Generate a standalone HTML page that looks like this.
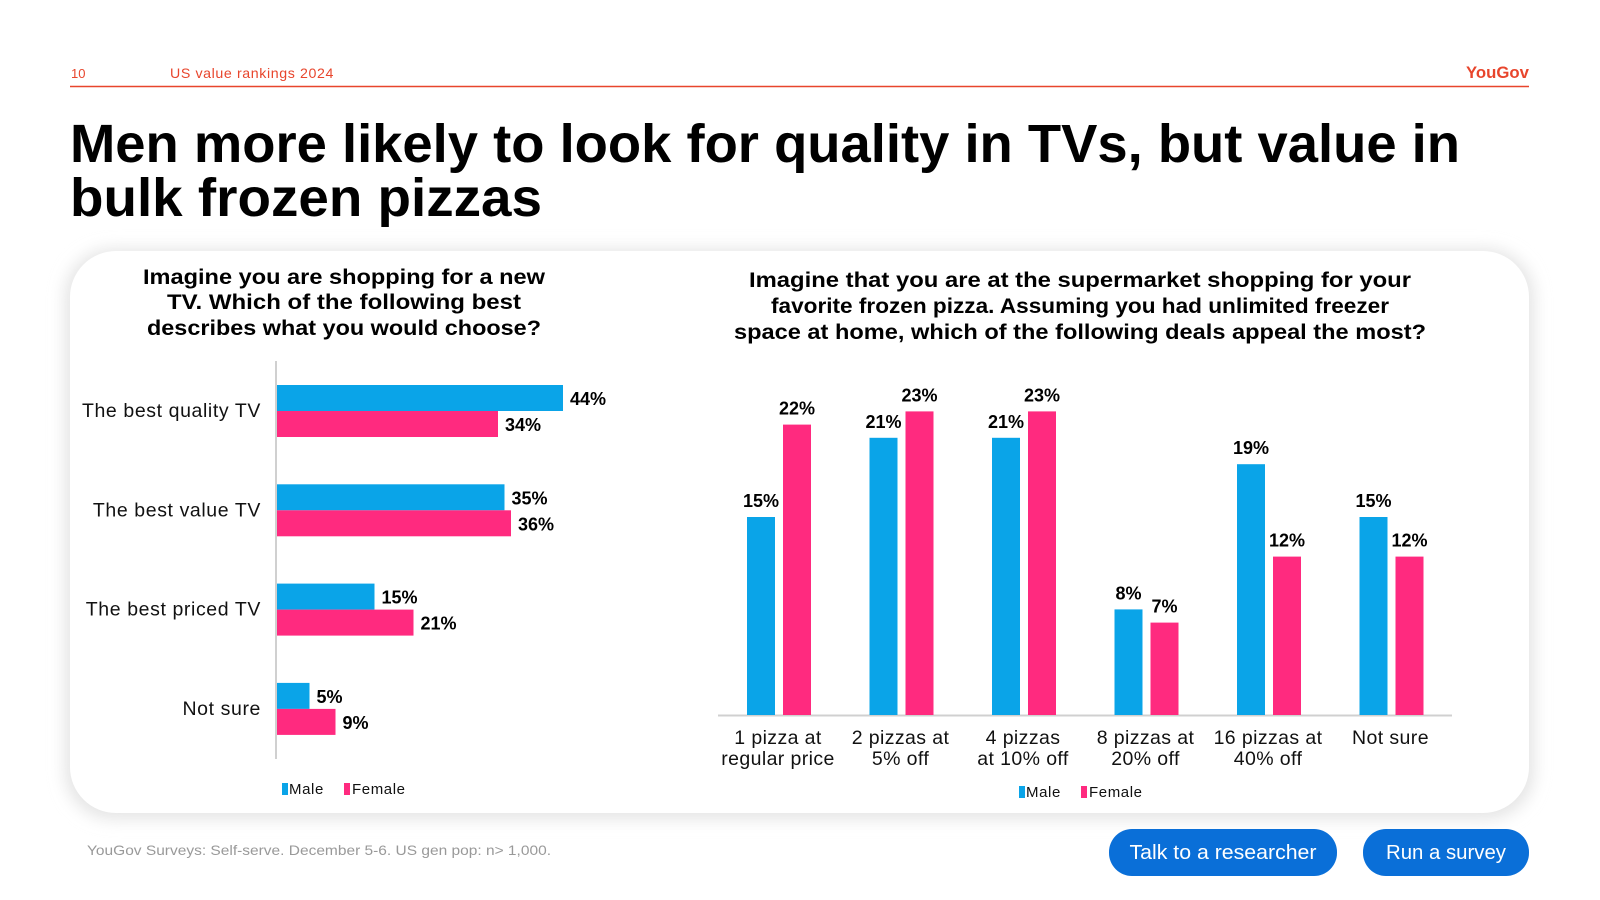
<!DOCTYPE html>
<html><head><meta charset="utf-8"><style>
html,body{margin:0;padding:0;background:#fff;}
svg{display:block;font-family:"Liberation Sans",sans-serif;}
</style></head><body>
<svg id="s" width="1600" height="900" viewBox="0 0 1600 900" xmlns="http://www.w3.org/2000/svg">
<defs><filter id="sh" x="-5%" y="-5%" width="110%" height="115%"><feGaussianBlur stdDeviation="8"/></filter></defs>
<text x="71" y="78" font-size="13" fill="#e8452c">10</text>
<text x="170" y="78" font-size="14" letter-spacing="0.6" fill="#e8452c" textLength="164" lengthAdjust="spacingAndGlyphs">US value rankings 2024</text>
<text x="1529" y="78" font-size="17" font-weight="bold" fill="#e8452c" text-anchor="end" textLength="63" lengthAdjust="spacingAndGlyphs">YouGov</text>
<line x1="70" y1="86.5" x2="1529" y2="86.5" stroke="#e8452c" stroke-width="1.5"/>
<text x="70" y="162" font-size="54" font-weight="bold" fill="#000" textLength="1390" lengthAdjust="spacingAndGlyphs">Men more likely to look for quality in TVs, but value in</text>
<text x="70" y="216" font-size="54" font-weight="bold" fill="#000" textLength="472" lengthAdjust="spacingAndGlyphs">bulk frozen pizzas</text>
<rect x="65" y="249" width="1469" height="570" rx="48" fill="#e4e4e4" filter="url(#sh)"/>
<rect x="70" y="251" width="1459" height="562" rx="46" fill="#fff"/>
<g font-size="21" font-weight="bold" text-anchor="middle" fill="#000">
<text x="344" y="284" textLength="402" lengthAdjust="spacingAndGlyphs">Imagine you are shopping for a new</text>
<text x="344" y="309" textLength="354" lengthAdjust="spacingAndGlyphs">TV. Which of the following best</text>
<text x="344" y="335" textLength="394" lengthAdjust="spacingAndGlyphs">describes what you would choose?</text>
</g>
<g font-size="21" font-weight="bold" text-anchor="middle" fill="#000">
<text x="1080" y="287" textLength="662" lengthAdjust="spacingAndGlyphs">Imagine that you are at the supermarket shopping for your</text>
<text x="1080" y="313" textLength="618" lengthAdjust="spacingAndGlyphs">favorite frozen pizza. Assuming you had unlimited freezer</text>
<text x="1080" y="339" textLength="692" lengthAdjust="spacingAndGlyphs">space at home, which of the following deals appeal the most?</text>
</g>
<g id="left"></g>
<g id="right"></g>
<text x="87" y="855" font-size="14" fill="#999" textLength="464" lengthAdjust="spacingAndGlyphs">YouGov Surveys: Self-serve. December 5-6. US gen pop: n&gt; 1,000.</text>
<g>
<rect x="1109" y="829" width="228" height="47" rx="23" fill="#0a6fd8"/>
<text x="1223" y="859" font-size="20" fill="#fff" text-anchor="middle" textLength="187" lengthAdjust="spacingAndGlyphs">Talk to a researcher</text></g>
<g>
<rect x="1363" y="829" width="166" height="47" rx="23" fill="#0a6fd8"/>
<text x="1446" y="859" font-size="20" fill="#fff" text-anchor="middle" textLength="120" lengthAdjust="spacingAndGlyphs">Run a survey</text></g>
</svg>
<script>
const tvCats=["The best quality TV","The best value TV","The best priced TV","Not sure"];
const tvMale=[44,35,15,5];
const tvFemale=[34,36,21,9];
const pzCats=[["1 pizza at","regular price"],["2 pizzas at","5% off"],["4 pizzas","at 10% off"],["8 pizzas at","20% off"],["16 pizzas at","40% off"],["Not sure",""]];
const pzMale=[15,21,21,8,19,15];
const pzFemale=[22,23,23,7,12,12];
const BLUE="#0aa4e8",PINK="#ff2a7f",NS="http://www.w3.org/2000/svg";
function mk(p,t,a,txt){const e=document.createElementNS(NS,t);for(const k in a)e.setAttribute(k,a[k]);if(txt!=null)e.textContent=txt;p.appendChild(e);return e;}
// left chart
const L=document.getElementById('left');
const lx0=276,lpx=6.5,ly=i=>411+i*99.3;
let ax=mk(L,'line',{x1:lx0,y1:361,x2:lx0,y2:759,stroke:'#d0d0d0','stroke-width':2});

tvCats.forEach((c,i)=>{
 const y=ly(i);
 let t=mk(L,'text',{x:261,y:y+6,'font-size':19.5,'letter-spacing':'0.6','text-anchor':'end',fill:'#111'},c);
 
 [[tvMale[i],BLUE,-26],[tvFemale[i],PINK,0]].forEach(([v,col,off])=>{
  let b=mk(L,'rect',{x:lx0+1,y:y+off,width:v*lpx,height:26,fill:col});
  
  let l=mk(L,'text',{x:lx0+v*lpx+8,y:y+off+20,'font-size':18,'font-weight':'bold',fill:'#000'},v+'%');
  
 });
});
function legend(p,x,y){
 let g=mk(p,'g',{});
 mk(g,'rect',{x:x,y:y-10,width:6,height:12,fill:BLUE});
 mk(g,'text',{x:x+7,y:y+1,'font-size':15,'letter-spacing':'0.6',fill:'#111'},'Male');
 mk(g,'rect',{x:x+62,y:y-10,width:6,height:12,fill:PINK});
 mk(g,'text',{x:x+70,y:y+1,'font-size':15,'letter-spacing':'0.6',fill:'#111'},'Female');
}
legend(L,282,793);
// right chart
const R=document.getElementById('right');
const base=715,rpx=13.2,cx=i=>778+i*122.5;
let bl=mk(R,'line',{x1:718,y1:base+0.5,x2:1452,y2:base+0.5,stroke:'#d0d0d0','stroke-width':2});

pzCats.forEach((c,i)=>{
 const x=cx(i);
 c.forEach((ln,j)=>{if(!ln)return;let t=mk(R,'text',{x:x,y:744+j*21,'font-size':19.5,'letter-spacing':'0.4','text-anchor':'middle',fill:'#111'},ln);
  });
 [[pzMale[i],BLUE,-31],[pzFemale[i],PINK,5]].forEach(([v,col,off])=>{
  const h=v*rpx;
  let b=mk(R,'rect',{x:x+off,y:base-h,width:28,height:h,fill:col});
  
  let l=mk(R,'text',{x:x+off+14,y:base-h-10,'font-size':18,'font-weight':'bold','text-anchor':'middle',fill:'#000'},v+'%');
  
 });
});
legend(R,1019,796);
</script>
</body></html>
